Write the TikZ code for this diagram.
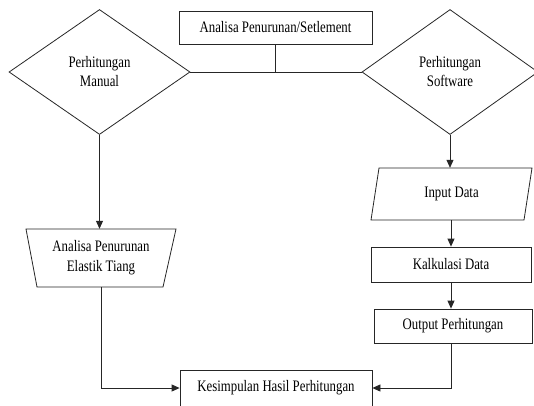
\documentclass[tikz,border=0pt]{standalone}
\usepackage{fontspec}
\setmainfont{Liberation Serif}
\usetikzlibrary{shapes.geometric,arrows.meta}
\newcommand{\nar}[1]{\scalebox{0.8}[1]{#1}}
\tikzset{
  every node/.style={font=\fontsize{16}{18}\selectfont, inner sep=0pt, align=center},
  box/.style={draw=black!85, line width=0.8pt, rectangle},
  dia/.style={draw=black!85, line width=0.8pt, diamond, minimum width=181pt, minimum height=125pt},
  plainbox/.style={rectangle},
  ln/.style={draw=black!85, line width=0.8pt},
  arr/.style={ln, -{Triangle[length=8pt,width=7pt]}}
}
\begin{document}
\begin{tikzpicture}[x=1pt,y=-1pt]
\clip (0,0) rectangle (534,405);
\useasboundingbox (0,0) rectangle (534,405);
\fill[white] (0,0) rectangle (534,405);
% top box
\node[box, minimum width=193pt, minimum height=33pt] (top) at (275.5,27.5) {\nar{Analisa Penurunan/Setlement}};
% diamonds
\node[dia] (ld) at (99.5,72) {\nar{Perhitungan}\\[1pt]\nar{Manual}};
\node[dia, minimum width=176pt] (rd) at (450,72) {\nar{Perhitungan}\\[1pt]\nar{Software}};
% input data (parallelogram)
\node[plainbox, minimum width=153pt, minimum height=52pt] (in) at (451.5,194) {\nar{Input Data}};
\draw[ln] (379,168) -- (532,168) -- (524,220) -- (371,220) -- cycle;
% kalkulasi
\node[box, minimum width=160pt, minimum height=35pt] (kal) at (451,264.5) {\nar{Kalkulasi Data}};
% output
\node[box, minimum width=158pt, minimum height=34pt] (out) at (453,326) {\nar{Output Perhitungan}};
% trapezium
\node[plainbox, minimum width=150pt, minimum height=58pt] (trap) at (101,258) {\nar{Analisa Penurunan}\\[2pt]\nar{Elastik Tiang}};
\draw[ln] (26,229) -- (176,229) -- (163,287) -- (37,287) -- cycle;
% kesimpulan
\node[box, minimum width=192pt, minimum height=36pt] (kes) at (276,388) {\nar{Kesimpulan Hasil Perhitungan}};
% connectors
\draw[ln] (ld.east) -- (rd.west);
\draw[ln] (top.south) -- (top.south |- ld.east);
\draw[arr] (ld.south) -- (ld.south |- trap.north);
\draw[arr] (rd.south) -- (rd.south |- in.north);
\draw[arr] (kal.north |- in.south) -- (kal.north);
\draw[arr] (kal.south) -- (kal.south |- out.north);
\draw[arr] (trap.south) |- (kes.west);
\draw[arr] (kal.south |- out.south) |- (kes.east);
\end{tikzpicture}
\end{document}
